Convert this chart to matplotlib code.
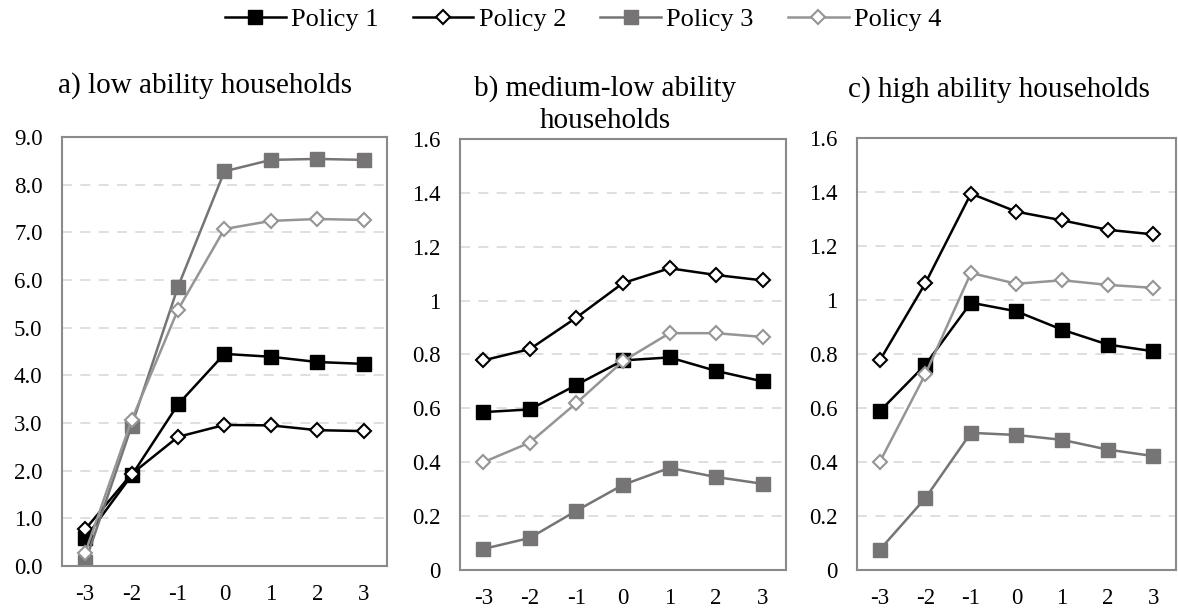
import matplotlib.pyplot as plt
from matplotlib.ticker import FuncFormatter

plt.rcParams["font.family"] = ["Liberation Serif", "DejaVu Serif"]
plt.rcParams["axes.unicode_minus"] = False

x = [-3, -2, -1, 0, 1, 2, 3]
x_labels = ["-3", "-2", "-1", "0", "1", "2", "3"]
policies = ["Policy 1", "Policy 2", "Policy 3", "Policy 4"]

# a) low ability households
low_p1 = [0.58, 1.90, 3.39, 4.45, 4.39, 4.28, 4.24]
low_p2 = [0.77, 1.93, 2.71, 2.96, 2.95, 2.85, 2.83]
low_p3 = [0.08, 2.94, 5.86, 8.28, 8.52, 8.54, 8.52]
low_p4 = [0.28, 3.06, 5.38, 7.07, 7.24, 7.28, 7.26]

# b) medium-low ability households
med_p1 = [0.586, 0.596, 0.687, 0.778, 0.789, 0.739, 0.70]
med_p2 = [0.778, 0.82, 0.937, 1.065, 1.12, 1.095, 1.075]
med_p3 = [0.078, 0.119, 0.22, 0.316, 0.379, 0.345, 0.32]
med_p4 = [0.40, 0.473, 0.62, 0.775, 0.879, 0.879, 0.865]

# c) high ability households
high_p1 = [0.588, 0.76, 0.99, 0.958, 0.89, 0.835, 0.81]
high_p2 = [0.776, 1.062, 1.394, 1.327, 1.295, 1.26, 1.243]
high_p3 = [0.075, 0.266, 0.508, 0.50, 0.482, 0.446, 0.422]
high_p4 = [0.40, 0.725, 1.10, 1.06, 1.073, 1.056, 1.045]

panels = [
    (["a) low ability households"], [low_p1, low_p2, low_p3, low_p4], 9.0, 1.0, "{:.1f}"),
    (["b) medium-low ability", "households"], [med_p1, med_p2, med_p3, med_p4], 1.6, 0.2, "{:g}"),
    (["c) high ability households"], [high_p1, high_p2, high_p3, high_p4], 1.6, 0.2, "{:g}"),
]

gray3 = "#767474"
gray4 = "#959595"
styles = [
    dict(color="black", marker="s", markerfacecolor="black", markeredgecolor="black", markersize=9.5),
    dict(color="black", marker="D", markerfacecolor="white", markeredgecolor="black", markersize=7, markeredgewidth=1.5),
    dict(color=gray3, marker="s", markerfacecolor=gray3, markeredgecolor=gray3, markersize=9.5),
    dict(color=gray4, marker="D", markerfacecolor="white", markeredgecolor=gray4, markersize=7, markeredgewidth=1.5),
]

fig = plt.figure(figsize=(11.78, 6.10), dpi=100)
positions = [
    [0.0526, 0.0721, 0.2759, 0.7033],
    [0.3905, 0.0656, 0.2767, 0.7066],
    [0.7275, 0.0656, 0.2708, 0.7082],
]
title_pos = [
    [(0.174, 0.8475)],
    [(0.5136, 0.8426), (0.5136, 0.790)],
    [(0.848, 0.841)],
]

handles = []
for (title, series, ymax, step, fmt), pos, tpos in zip(panels, positions, title_pos):
    ax = fig.add_axes(pos)
    for s, st, name in zip(series, styles, policies):
        h, = ax.plot(x, s, linewidth=1.8, label=name, **st)
        if len(handles) < 4:
            handles.append(h)
    ax.set_xlim(-3.5, 3.5)
    ax.set_ylim(0, ymax)
    ticks = [i * step for i in range(int(round(ymax / step)) + 1)]
    ax.set_yticks(ticks)
    ax.yaxis.set_major_formatter(FuncFormatter(lambda v, p, f=fmt: f.format(round(v, 2))))
    ax.set_xticks(x)
    ax.set_xticklabels(x_labels)
    ax.tick_params(axis="y", length=0, labelsize=16.5, pad=14)
    ax.tick_params(axis="x", length=0, labelsize=16.5, pad=13)
    for t in ticks[1:-1]:
        ax.axhline(t, color="#d9d9d9", linewidth=1.2, linestyle=(0, (6, 5)), zorder=0)
    for sp in ax.spines.values():
        sp.set_color("#8a8a8a")
        sp.set_linewidth(1.5)
    for line, (tx, ty) in zip(title, tpos):
        fig.text(tx, ty, line, fontsize=21, ha="center", va="baseline")

fig.legend(handles, policies, loc="center", ncol=4, frameon=False, fontsize=19,
           bbox_to_anchor=(0.495, 0.968), handlelength=2.3, columnspacing=1.3,
           handletextpad=0.2, borderpad=0, borderaxespad=0)

plt.savefig("out.png", dpi=100)
